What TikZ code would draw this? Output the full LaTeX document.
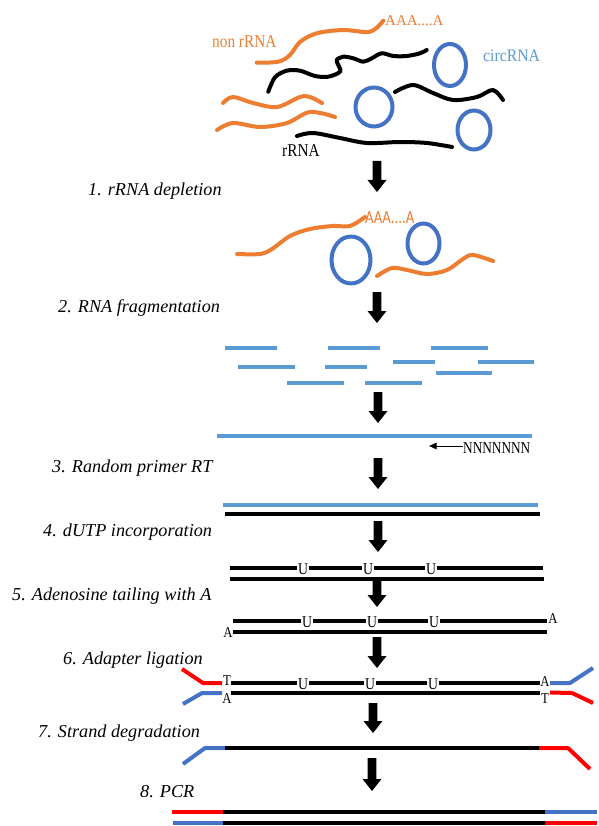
\documentclass[tikz,border=0pt]{standalone}
\usepackage{fontspec}
\setmainfont{Liberation Serif}
\newfontfamily\carl{Carlito}
\usepackage{graphicx}
\usetikzlibrary{arrows.meta}
\definecolor{orng}{HTML}{ED7D31}
\definecolor{cblue}{HTML}{4472C4}
\definecolor{fblue}{HTML}{5B9BD5}
\definecolor{ared}{HTML}{FF0000}
\newcommand\sqz[2][0.82]{\scalebox{#1}[1]{#2}}
\newcommand\dnarr[3]{%
  \fill (#1-4.3,#2) -- (#1+4.3,#2) -- (#1+4.3,#3-12) -- (#1+9.5,#3-12) -- (#1,#3) -- (#1-9.5,#3-12) -- (#1-4.3,#3-12) -- cycle;}
\tikzset{
  lab/.style={font=\fontsize{18.2}{20}\selectfont\itshape, inner sep=0pt, anchor=base west},
  toptext/.style={font=\fontsize{18}{20}\selectfont, inner sep=0pt, anchor=base west},
  rna/.style={line width=4pt, line cap=round, line join=round, smooth, tension=0.55},
  frag/.style={fblue, line width=4pt},
  strand/.style={black, line width=4.5pt},
  ulet/.style={font=\fontsize{16.6}{18}\selectfont, fill=white, inner sep=0.8pt},
  endlet/.style={font=\fontsize{15}{16}\selectfont, inner sep=0pt},
  adapt/.style={line width=4pt, line join=round},
}
\begin{document}
\begin{tikzpicture}[x=1pt,y=-1pt]
\fill[white] (0,0) rectangle (598,826);
\useasboundingbox (0,0) rectangle (598,826);

% ---------- top mixture ----------
\draw[rna, orng] plot coordinates {(256.7,62.7) (278.3,61.7) (290,55) (300,42) (316.7,33.3) (343.3,30) (370,31.7) (383.3,20.7)};
\draw[rna, orng] plot coordinates {(223,103) (233,97) (253,103) (277,107) (300,97) (310,97) (322,103)};
\draw[rna, orng] plot coordinates {(217,130) (233,123) (260,127) (287,123) (310,112) (335,117)};
\draw[rna, black] plot coordinates {(268.3,91.7) (275,77.3) (286.7,70.7) (300,70.7) (315,76) (328.3,76.7) (340,71.7) (338.3,65) (336.7,60) (343.3,56.7) (353.3,58.3) (363.3,61.7) (371.7,58.3) (381.7,53.3) (393.3,56) (406.7,56) (420,53.3) (426.7,50)};
\draw[rna, black] plot coordinates {(395,92) (413,85) (433,93) (453,100) (477,97) (493,90) (503,100)};
\draw[rna, black] plot coordinates {(297,136) (313,133) (340,138) (367,143) (400,142) (427,143) (452,147)};
\draw[cblue, line width=4pt] (450,65) ellipse [x radius=16pt, y radius=21pt];
\draw[cblue, line width=4pt] (374,107) ellipse [x radius=18.5pt, y radius=19.5pt];
\draw[cblue, line width=4pt] (474,130) ellipse [x radius=16.5pt, y radius=19.5pt];
\node[toptext, orng] (nonr) at (212,48) {\sqz[0.85]{non rRNA}};
\node[toptext, orng, font=\fontsize{15}{16}\selectfont] (polyA1) at (385,26) {AAA....A};
\node[toptext, fblue, font=\fontsize{17.5}{19}\selectfont] (circ) at (483,62) {\sqz[0.9]{circRNA}};
\node[toptext, black] (rrna) at (282,157) {\sqz[0.85]{rRNA}};

% ---------- labels ----------
\node[lab] (l1) at (88,196) {1. rRNA depletion};
\node[lab] (l2) at (58,312) {2. RNA fragmentation};
\node[lab] (l3) at (52,472) {3. Random primer RT};
\node[lab] (l4) at (43,536) {4. dUTP incorporation};
\node[lab] (l5) at (12,600) {5. Adenosine tailing with A};
\node[lab] (l6) at (63,664) {6. Adapter ligation};
\node[lab] (l7) at (38,737) {7. Strand degradation};
\node[lab] (l8) at (140,797) {8. PCR};

% ---------- arrows ----------
\dnarr{377}{161}{192}
\dnarr{377}{292}{323}
\dnarr{378}{392}{423}
\dnarr{378}{458}{489}
\dnarr{378}{521}{552}
\dnarr{377}{579}{607}
\dnarr{377}{637}{668}
\dnarr{373}{703}{733}
\dnarr{372}{758}{791}

% ---------- after depletion ----------
\draw[rna, orng] plot coordinates {(237,254) (260,254) (272,249) (290,236) (310,229) (333,226) (350,226) (365,217)};
\draw[rna, orng] plot coordinates {(377,276) (392,268) (407,270) (427,274) (447,270) (463,259) (473,255) (493,261)};
\draw[cblue, line width=4pt] (351,260) ellipse [x radius=19.5pt, y radius=23.5pt];
\draw[cblue, line width=4pt] (423.5,243.5) ellipse [x radius=16pt, y radius=20pt];
\node[toptext, orng, font=\fontsize{18.5}{20}\carl] (polyA2) at (365,223) {\sqz[0.8]{AAA....A}};

% ---------- fragments ----------
\draw[frag] (225,348) -- (277,348);
\draw[frag] (328,348) -- (380,348);
\draw[frag] (431,348) -- (488,348);
\draw[frag] (238,367) -- (295,367);
\draw[frag] (325,367) -- (367,367);
\draw[frag] (393,362) -- (435,362);
\draw[frag] (478,362) -- (534,362);
\draw[frag] (436,373) -- (492,373);
\draw[frag] (287,383) -- (344,383);
\draw[frag] (365,383) -- (422,383);

% ---------- random primer ----------
\draw[frag, line width=4.5pt] (217,436) -- (532,436);
\node[inner sep=0pt, anchor=base west, font=\fontsize{16.6}{18}\selectfont] (prim) at (463,453) {\sqz[0.8]{NNNNNNN}};
\coordinate (primtip) at (429,446);
\draw[-{Triangle[length=7.5pt,width=6.5pt]}, line width=0.8pt] (prim.west |- primtip) -- (primtip);

% ---------- RT double strand ----------
\draw[frag, line width=4.5pt] (223,505) -- (538,505);
\draw[strand] (225,514) -- (540,514);

% ---------- dUTP ----------
\coordinate (d4l) at (230,568); \coordinate (d4r) at (543,568);
\draw[strand] (d4l) -- (d4r);
\draw[strand] (230,579) -- (544,579);
\node[ulet] (d4u1) at (303,569) {\sqz[0.83]{U}};
\node[ulet] (d4u2) at (368,569) {\sqz[0.83]{U}};
\node[ulet] (d4u3) at (431,569) {\sqz[0.83]{U}};

% ---------- A tailing ----------
\coordinate (a5l) at (233,621); \coordinate (a5r) at (547,621);
\draw[strand] (a5l) -- (a5r);
\draw[strand] (233,632) -- (547,632);
\node[ulet] (a5u1) at (307,622) {\sqz[0.83]{U}};
\node[ulet] (a5u2) at (372,622) {\sqz[0.83]{U}};
\node[ulet] (a5u3) at (434,622) {\sqz[0.83]{U}};
\node[endlet] (a5ar) at (553,619) {\sqz[0.85]{A}};
\node[endlet] (a5al) at (228,633) {\sqz[0.85]{A}};

% ---------- adapter ligation ----------
\draw[strand] (231,683) -- (540,683);
\draw[strand] (231,693) -- (540,693);
\node[ulet] (a6u1) at (303,684) {\sqz[0.83]{U}};
\node[ulet] (a6u2) at (370,684) {\sqz[0.83]{U}};
\node[ulet] (a6u3) at (433,684) {\sqz[0.83]{U}};
\node[endlet] (a6tl) at (227,681) {\sqz[0.85]{T}};
\node[endlet] (a6al) at (227,698.5) {\sqz[0.85]{A}};
\node[endlet] (a6ar) at (545,682) {\sqz[0.85]{A}};
\node[endlet] (a6tr) at (545,698.5) {\sqz[0.85]{T}};
\draw[adapt, ared] (182,669) -- (203,683) -- (222,683);
\draw[adapt, cblue] (183,704) -- (202,693) -- (222,693);
\draw[adapt, cblue] (550,683) -- (570,683) -- (593,668);
\draw[adapt, ared] (550,692.5) -- (572,693) -- (593,703);

% ---------- strand degradation ----------
\draw[adapt, cblue] (183,764) -- (205,748) -- (225,748);
\draw[strand] (225,748) -- (539,748);
\draw[adapt, ared] (539,748) -- (568,748) -- (590,769);

% ---------- PCR ----------
\draw[adapt, ared] (172,812) -- (223,812);
\draw[strand] (223,812) -- (545,812);
\draw[adapt, cblue] (545,812) -- (597,812);
\draw[adapt, cblue] (173,823) -- (223,823);
\draw[strand] (223,823) -- (545,823);
\draw[adapt, ared] (545,823) -- (597,823);
\end{tikzpicture}
\end{document}
